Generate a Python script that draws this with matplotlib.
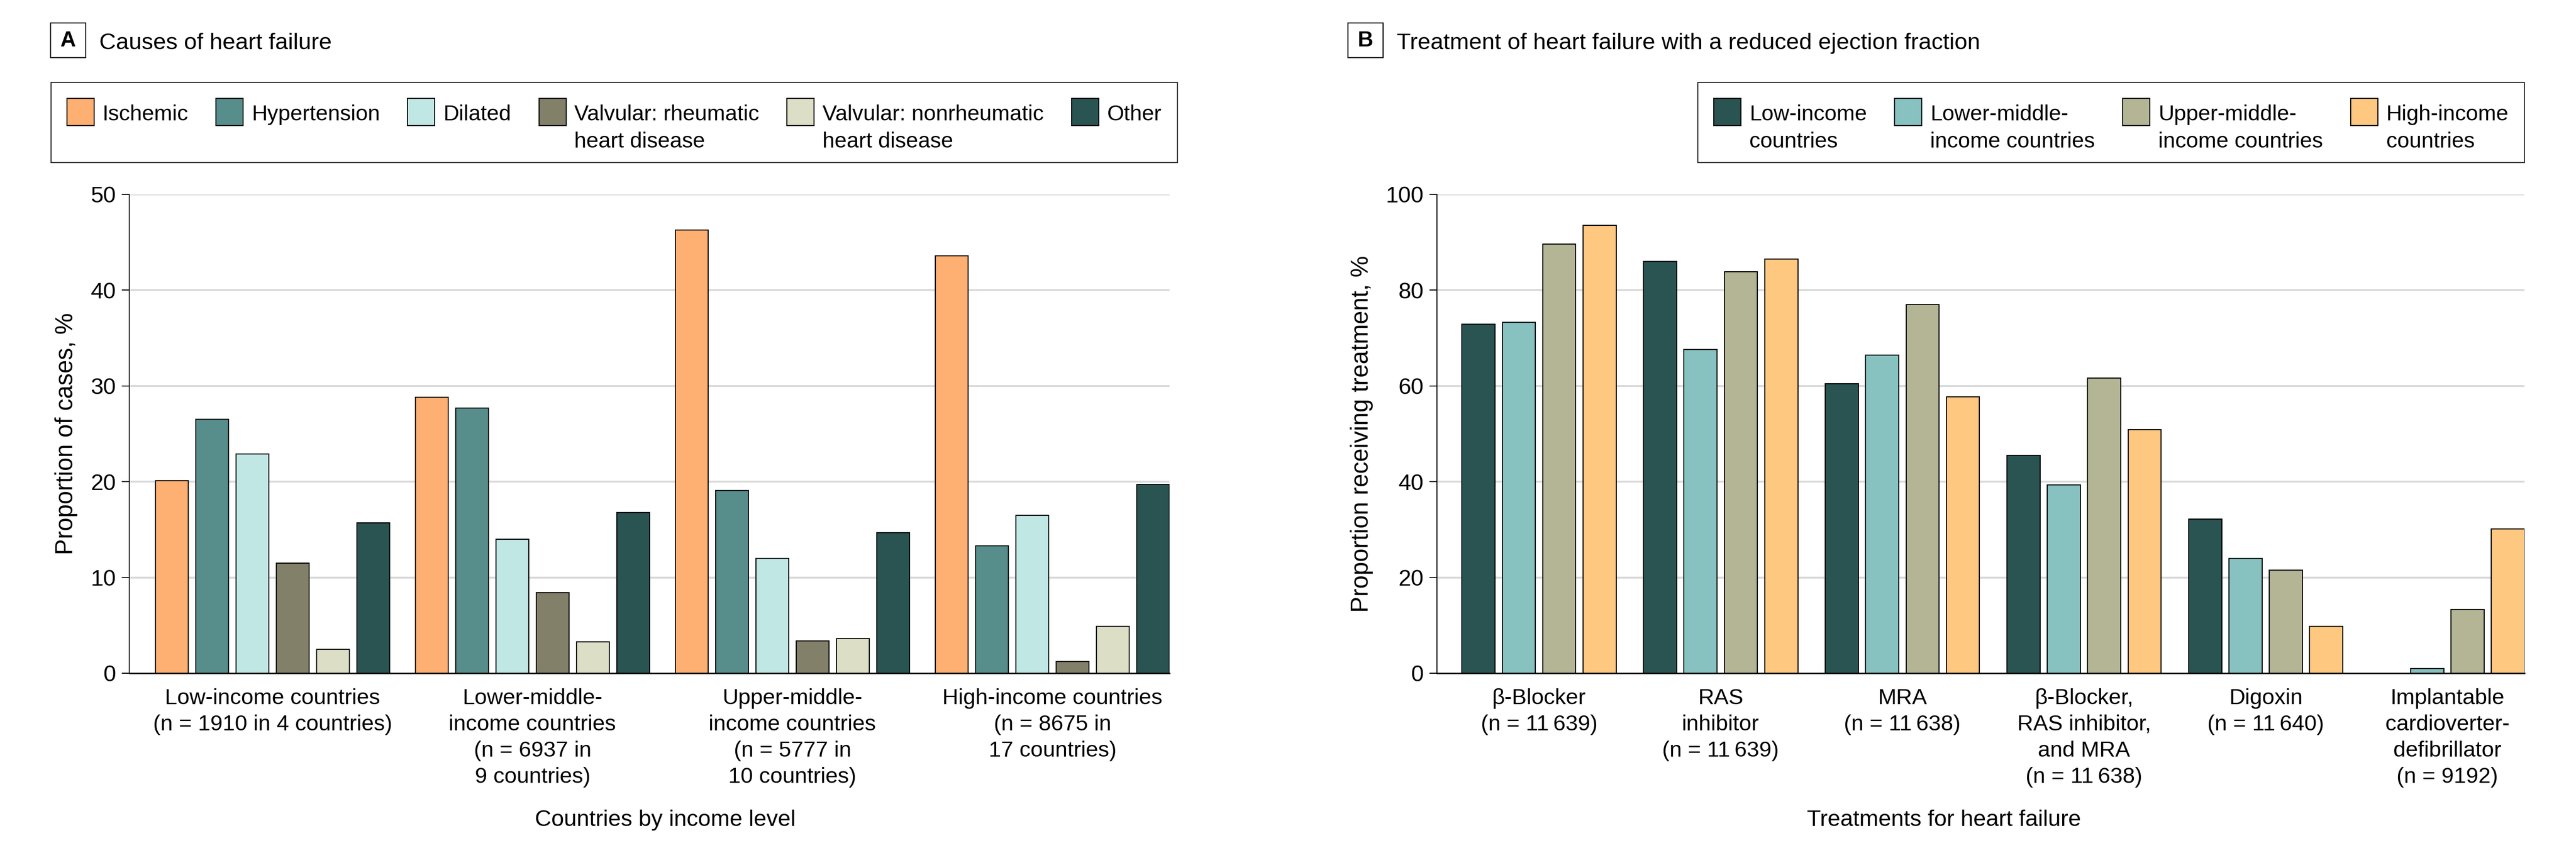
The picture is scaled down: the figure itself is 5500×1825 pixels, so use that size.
import numpy as np
import matplotlib
matplotlib.use("Agg")
import matplotlib.pyplot as plt
from matplotlib.patches import Rectangle

plt.rcParams['font.family'] = ['Liberation Sans', 'DejaVu Sans']

# ---------------- data ----------------
income_groups_A = [
    "Low-income countries\n(n = 1910 in 4 countries)",
    "Lower-middle-\nincome countries\n(n = 6937 in\n9 countries)",
    "Upper-middle-\nincome countries\n(n = 5777 in\n10 countries)",
    "High-income countries\n(n = 8675 in\n17 countries)",
]
causes = ["Ischemic", "Hypertension", "Dilated",
          "Valvular: rheumatic\nheart disease",
          "Valvular: nonrheumatic\nheart disease", "Other"]
ischemic = [20.1, 28.8, 46.3, 43.6]
hypertension = [26.5, 27.7, 19.1, 13.3]
dilated = [22.9, 14.0, 12.0, 16.5]
rheumatic = [11.5, 8.4, 3.4, 1.2]
nonrheumatic = [2.5, 3.3, 3.6, 4.9]
other = [15.7, 16.8, 14.7, 19.7]

treatments = [
    "\u03b2-Blocker\n(n = 11\u2009639)",
    "RAS\ninhibitor\n(n = 11\u2009639)",
    "MRA\n(n = 11\u2009638)",
    "\u03b2-Blocker,\nRAS inhibitor,\nand MRA\n(n = 11\u2009638)",
    "Digoxin\n(n = 11\u2009640)",
    "Implantable\ncardioverter-\ndefibrillator\n(n = 9192)",
]
income_levels_B = ["Low-income\ncountries", "Lower-middle-\nincome countries",
                   "Upper-middle-\nincome countries", "High-income\ncountries"]
low_income = [72.9, 86.0, 60.5, 45.5, 32.2, np.nan]
lower_middle = [73.3, 67.6, 66.4, 39.3, 24.0, 1.0]
upper_middle = [89.6, 83.9, 77.0, 61.6, 21.5, 13.3]
high_income = [93.5, 86.5, 57.7, 50.9, 9.8, 30.1]

colors_A = ["#FEAF72", "#578D8B", "#C1E7E5", "#83806A", "#DCDFC6", "#295452"]
colors_B = ["#2A5452", "#87C2C1", "#B3B595", "#FFC881"]

# ---------------- figure ----------------
W, H = 5500, 1825
fig = plt.figure(figsize=(W / 100, H / 100), dpi=100)


def fx(x):
    return x / W


def fy(y):
    return 1 - y / H


TICK_FS = 34
NUM_FS = 35
LEG_FS = 33.5
TITLE_FS = 35.5
LAB_FS = 35
YLAB_FS = 37


def style_axes(ax, yticks):
    ax.set_ylim(yticks[0], yticks[-1])
    ax.set_yticks(yticks)
    for s in ("top", "right"):
        ax.spines[s].set_visible(False)
    ax.spines["left"].set_linewidth(1.5)
    ax.spines["bottom"].set_linewidth(2.0)
    ax.yaxis.grid(True, color="#D9D9D9", linewidth=2.9)
    ax.set_axisbelow(True)
    ax.tick_params(axis="x", length=0, pad=23, labelsize=TICK_FS)
    ax.tick_params(axis="y", length=11.5, width=1.5, pad=9, labelsize=NUM_FS)
    for lab in ax.get_xticklabels():
        lab.set_linespacing(1.35)


# ---- Panel A ----
axA = fig.add_axes([fx(276), fy(1437), fx(2497) - fx(276), (1437 - 415) / H])
GA, wA, padA = 6.45, 0.81, 0.65
seriesA = [ischemic, hypertension, dilated, rheumatic, nonrheumatic, other]
for j, (vals, col) in enumerate(zip(seriesA, colors_A)):
    x = np.arange(len(income_groups_A)) * GA + j
    axA.bar(x, vals, width=wA, color=col, edgecolor="black", linewidth=1.6, zorder=3)
axA.set_xlim(-wA / 2 - padA, (len(income_groups_A) - 1) * GA + len(seriesA) - 1 + wA / 2)
axA.set_xticks(np.arange(len(income_groups_A)) * GA + (len(seriesA) - 1) / 2)
axA.set_xticklabels(income_groups_A)
style_axes(axA, [0, 10, 20, 30, 40, 50])

# ---- Panel B ----
axB = fig.add_axes([fx(3068), fy(1437), fx(5390) - fx(3068), (1437 - 415) / H])
GB, wB, padB = 4.5, 0.82, 0.62
seriesB = [low_income, lower_middle, upper_middle, high_income]
for j, (vals, col) in enumerate(zip(seriesB, colors_B)):
    x = np.arange(len(treatments)) * GB + j
    axB.bar(x, vals, width=wB, color=col, edgecolor="black", linewidth=1.6, zorder=3)
axB.set_xlim(-wB / 2 - padB, (len(treatments) - 1) * GB + len(seriesB) - 1 + wB / 2)
axB.set_xticks(np.arange(len(treatments)) * GB + (len(seriesB) - 1) / 2)
axB.set_xticklabels(treatments)
style_axes(axB, [0, 20, 40, 60, 80, 100])

# ---- titles and panel letters ----
def panel_title(x_box, letter, title):
    fig.add_artist(Rectangle((fx(x_box), fy(123)), 75 / W, 74 / H,
                             transform=fig.transFigure, facecolor="white",
                             edgecolor="black", linewidth=1.6))
    fig.text(fx(x_box + 37.5), fy(87), letter, fontsize=33, fontweight="bold",
             ha="center", va="center")
    fig.text(fx(x_box + 104), fy(105), title, fontsize=TITLE_FS, ha="left",
             va="baseline")


panel_title(108, "A", "Causes of heart failure")
panel_title(2878, "B", "Treatment of heart failure with a reduced ejection fraction")

# ---- axis labels ----
fig.text(fx(1420), fy(1763), "Countries by income level", fontsize=LAB_FS,
         ha="center", va="baseline")
fig.text(fx(4150), fy(1763), "Treatments for heart failure", fontsize=LAB_FS,
         ha="center", va="baseline")
fig.text(fx(141), fy(926), "Proportion of cases, %", fontsize=YLAB_FS,
         rotation=90, ha="center", va="center")
fig.text(fx(2908), fy(926), "Proportion receiving treatment, %", fontsize=YLAB_FS,
         rotation=90, ha="center", va="center")

# ---- legends (drawn manually so patches align with first text line) ----
renderer = fig.canvas.get_renderer()
PATCH = 58
TPAD = 18
COLSP = 59
FPAD = 34
LINE_DY = 58


def draw_legend(labels, colors, x_left=None, x_right=None):
    entries = []
    for lab in labels:
        texts = []
        for i, line in enumerate(lab.split("\n")):
            t = fig.text(0, 0, line, fontsize=LEG_FS, ha="left", va="baseline")
            texts.append(t)
        wmax = max(t.get_window_extent(renderer).width for t in texts)
        entries.append((texts, wmax))
    content = sum(PATCH + TPAD + w for _, w in entries) + COLSP * (len(entries) - 1)
    if x_left is None:
        x_left = x_right - content - 2 * FPAD
    total = content + 2 * FPAD
    fig.add_artist(Rectangle((fx(x_left), fy(347)), total / W, (347 - 176) / H,
                             transform=fig.transFigure, facecolor="white",
                             edgecolor="#222222", linewidth=1.6, zorder=0))
    x = x_left + FPAD
    for (texts, w), col in zip(entries, colors):
        fig.add_artist(Rectangle((fx(x), fy(268)), PATCH / W, PATCH / H,
                                 transform=fig.transFigure, facecolor=col,
                                 edgecolor="black", linewidth=1.6, zorder=2))
        for i, t in enumerate(texts):
            t.set_position((fx(x + PATCH + TPAD), fy(257 + LINE_DY * i)))
            t.set_zorder(3)
        x += PATCH + TPAD + w + COLSP


draw_legend(causes, colors_A, x_left=109)
draw_legend(income_levels_B, colors_B, x_right=5390)

fig.savefig("out.png", dpi=100)
